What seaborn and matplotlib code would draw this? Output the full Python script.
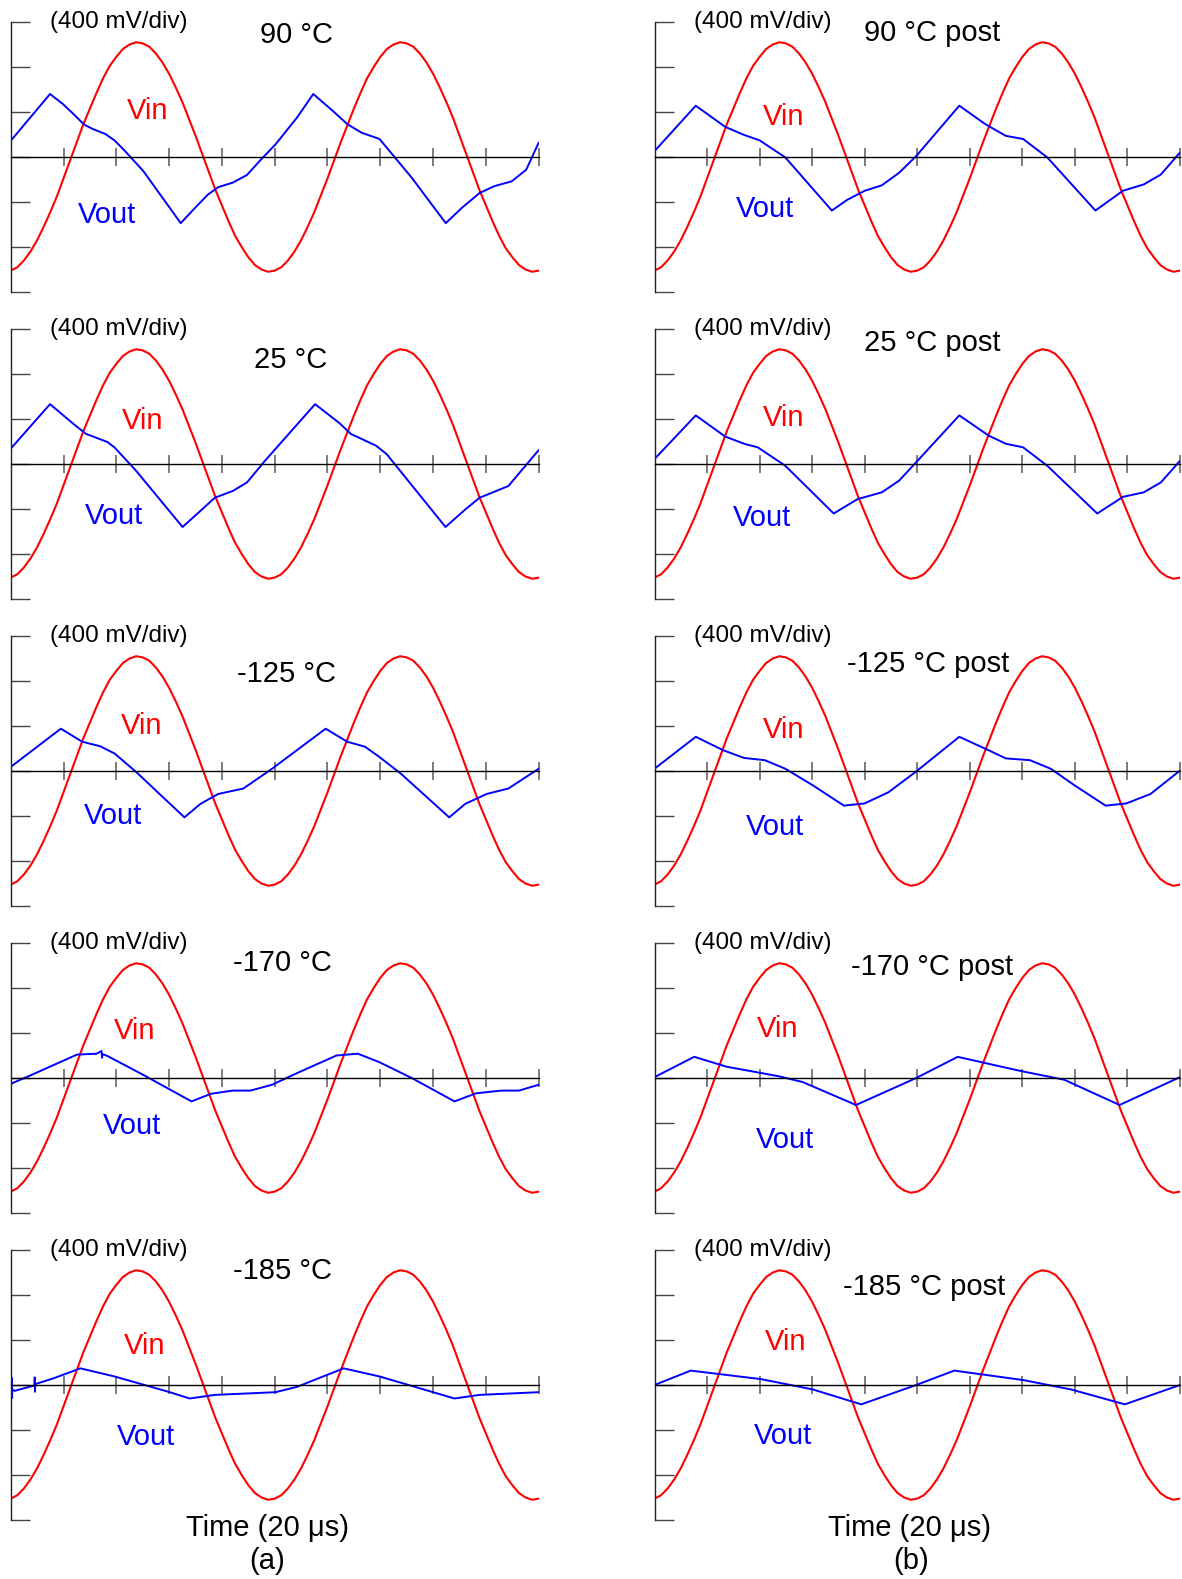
import numpy as np
import seaborn as sns
import matplotlib.pyplot as plt

# time base of the scope (us), 20 us/div, 10 div
vin_t = np.linspace(0, 200, 81)
# input sine (mV), same in every panel
vin_mv = [-1010, -980, -920, -840, -740, -620, -490, -350, -190, -30,
          130, 290, 430, 570, 700, 810, 890, 960, 1000, 1020,
          1010, 980, 920, 840, 740, 620, 490, 340, 190, 30,
          -130, -290, -430, -570, -700, -800, -890, -960, -1000, -1020,
          -1010, -980, -920, -840, -740, -620, -490, -340, -190, -30,
          130, 280, 430, 570, 700, 800, 890, 960, 1000, 1020,
          1010, 980, 920, 840, 740, 620, 490, 350, 190, 30,
          -130, -290, -430, -570, -700, -810, -890, -960, -1000, -1020,
          -1010]

# output traces, breakpoints (us, mV)
t_90 = [0, 14.9, 19.7, 23.7, 27.8, 31.2, 35.9, 39.3, 42.7, 50.2, 64.4, 69.2, 74.6, 78.6, 84.1,
        89.5, 94.9, 100.3, 108.5, 114.6, 121.9, 127.5, 132.9, 139.7, 145.1, 151.9, 164.8,
        170.9, 177.6, 183.1, 189.8, 195.3, 200]
v_90 = [144, 560, 472, 384, 288, 248, 204, 148, 68, -124, -588, -468, -336, -268, -228,
        -160, -20, 112, 352, 560, 412, 292, 216, 160, 8, -184, -588,
        -452, -320, -260, -216, -112, 128]
t_25 = [0, 14.9, 24.4, 28.5, 36.6, 39.3, 47.5, 65.1, 71.9, 77.3, 84.1, 89.5, 96.3, 115.3,
        124.7, 128.8, 138.3, 142.4, 164.7, 172.2, 177.6, 188.5, 200]
v_25 = [136, 532, 344, 268, 196, 148, -60, -560, -416, -300, -240, -164, 28, 532,
        360, 268, 164, 88, -560, -404, -300, -196, 124]
t_m125 = [0, 19.0, 27.1, 33.9, 39.3, 47.5, 65.8, 71.9, 78.6, 88.1, 99.0, 119.3, 127.5,
          134.2, 139.7, 147.8, 166.1, 172.2, 180.3, 188.5, 200]
v_m125 = [36, 376, 260, 220, 156, -8, -412, -292, -204, -156, 20, 376, 260,
          216, 124, -24, -412, -292, -204, -156, 20]
t_m170 = [0, 6.8, 25.1, 32.5, 34.4, 34.6, 34.8, 36.6, 50.2, 68.5, 75.9, 84.1, 90.8, 99.0,
          108.5, 123.4, 131.5, 139.7, 151.9, 168.1, 176.3, 185.8, 192.5, 200]
v_m170 = [-52, 16, 208, 216, 240, 180, 212, 196, 28, -208, -140, -112, -112, -60,
          44, 200, 216, 140, 0, -208, -136, -112, -112, -60]
t_m185 = [0, 0.3, 0.4, 0.5, 0.6, 1.5, 9.0, 9.1, 9.2, 9.3, 16.3, 26.4, 39.3, 59.7, 67.8,
          77.3, 100.3, 108.5, 126.1, 139.7, 160.0, 168.1, 177.6, 200]
v_m185 = [-52, -48, 64, -116, -40, -52, -4, 68, -60, 8, 60, 148, 76, -60, -120,
          -88, -64, -16, 148, 76, -64, -120, -88, -64]

t_90p = [0, 15.7, 26.9, 34.1, 40.0, 49.8, 67.5, 73.4, 80.0, 86.5, 93.1, 99.6, 116.0, 125.9,
         133.7, 140.3, 149.5, 167.8, 178.3, 186.2, 192.7, 200]
v_90p = [52, 456, 268, 196, 148, -4, -476, -380, -300, -252, -140, 8, 456, 292,
         188, 160, -4, -476, -300, -244, -156, 40]
t_25p = [0, 15.7, 26.9, 34.1, 39.3, 49.8, 68.2, 77.3, 86.5, 93.1, 99.6, 116.0, 127.2,
         133.7, 140.3, 149.5, 168.5, 178.3, 186.2, 192.7, 200]
v_25p = [44, 432, 244, 180, 148, -16, -440, -312, -252, -148, 16, 432, 252,
         180, 148, -16, -440, -292, -252, -164, 28]
t_m125p = [0, 15.7, 26.2, 34.1, 42.0, 49.8, 60.3, 72.1, 80.0, 89.1, 99.6, 116.0, 127.2,
           133.7, 142.9, 150.8, 159.9, 171.7, 179.6, 188.8, 200]
v_m125p = [20, 304, 184, 116, 96, 20, -128, -308, -288, -188, -4, 304, 184,
           112, 96, 20, -128, -308, -288, -204, 4]
t_m170p = [0, 15.1, 27.5, 47.2, 56.4, 76.7, 99.6, 115.4, 139.0, 156.0, 177.0, 200]
v_m170p = [8, 188, 100, 16, -36, -240, 0, 188, 64, -16, -240, 8]
t_m185p = [0, 13.8, 40.6, 60.3, 78.7, 99.6, 114.1, 140.3, 158.6, 179.0, 200]
v_m185p = [0, 128, 52, -40, -172, 0, 128, 44, -40, -172, 0]

titles_a = ["90 °C", "25 °C", "-125 °C", "-170 °C", "-185 °C"]
titles_b = ["90 °C post", "25 °C post", "-125 °C post", "-170 °C post", "-185 °C post"]
vout_a = [(t_90, v_90), (t_25, v_25), (t_m125, v_m125), (t_m170, v_m170), (t_m185, v_m185)]
vout_b = [(t_90p, v_90p), (t_25p, v_25p), (t_m125p, v_m125p), (t_m170p, v_m170p), (t_m185p, v_m185p)]

# label spots in axes fractions: title, Vin, Vout
pos_a = [[(.541, .951), (.259, .672), (.183, .287)],
         [(.531, .884), (.250, .660), (.196, .306)],
         [(.522, .858), (.248, .668), (.194, .332)],
         [(.514, .925), (.234, .675), (.229, .321)],
         [(.514, .922), (.253, .646), (.257, .306)]]
pos_b = [[(.529, .959), (.245, .649), (.211, .306)],
         [(.529, .948), (.245, .672), (.205, .299)],
         [(.521, .896), (.245, .653), (.230, .291)],
         [(.529, .910), (.234, .683), (.249, .272)],
         [(.513, .862), (.249, .660), (.245, .310)]]

sns.set_style("white")
plt.rcParams['font.family'] = ['Liberation Sans', 'DejaVu Sans']
plt.rcParams['text.color'] = 'black'

W, H = 1182, 1579
fig = plt.figure(figsize=(W / 100, H / 100), dpi=100)


def scope_panel(rect, vout, title, pos):
    ax = fig.add_axes(rect)
    sns.lineplot(x=vin_t, y=vin_mv, ax=ax, color="#ff0000", lw=1.5,
                 estimator=None, sort=False, legend=False)
    sns.lineplot(x=vout[0], y=vout[1], ax=ax, color="#0000ff", lw=1.4,
                 estimator=None, sort=False, legend=False)
    ax.set_xlim(0, 200)
    ax.set_ylim(-1200, 1200)
    for s in ["top", "right"]:
        ax.spines[s].set_visible(False)
    ax.spines["left"].set_color("#222222")
    ax.spines["left"].set_linewidth(1.0)
    ax.spines["bottom"].set_position(("data", 0))
    ax.spines["bottom"].set_color("black")
    ax.spines["bottom"].set_linewidth(1.0)
    ax.set_yticks(np.arange(-1200, 1201, 400))
    ax.set_xticks(np.arange(20, 201, 20))
    ax.tick_params(axis="y", left=True, direction="in", length=13.5, width=1.0,
                   colors="#444444", labelleft=False)
    ax.tick_params(axis="x", bottom=True, direction="inout", length=13.5, width=1.2,
                   colors="#666666", labelbottom=False)
    ax.set_xlabel("")
    ax.set_ylabel("")
    ax.patch.set_alpha(0)
    ax.text(0.075, 1.0, "(400 mV/div)", transform=ax.transAxes, fontsize=17.5,
            ha="left", va="center", clip_on=False)
    ax.text(*pos[0], title, transform=ax.transAxes, fontsize=21, ha="center", va="center")
    ax.text(*pos[1], "Vin", transform=ax.transAxes, fontsize=21, color="#ff0000",
            ha="center", va="center")
    ax.text(*pos[2], "Vout", transform=ax.transAxes, fontsize=21, color="#0000ff",
            ha="center", va="center")
    return ax


for r in range(5):
    bottom = 1 - (292 + 307 * r) / H
    h = 270 / H
    scope_panel([10.7 / W, bottom, 528 / W, h], vout_a[r], titles_a[r], pos_a[r])
    scope_panel([654.5 / W, bottom, 525.5 / W, h], vout_b[r], titles_b[r], pos_b[r])

fig.text(268 / W, 1 - 1528 / H, "Time (20 μs)", fontsize=21, ha="center", va="center")
fig.text(267 / W, 1 - 1561 / H, "(a)", fontsize=21, ha="center", va="center")
fig.text(910 / W, 1 - 1528 / H, "Time (20 μs)", fontsize=21, ha="center", va="center")
fig.text(911 / W, 1 - 1561 / H, "(b)", fontsize=21, ha="center", va="center")

fig.savefig("out.png", dpi=100)
